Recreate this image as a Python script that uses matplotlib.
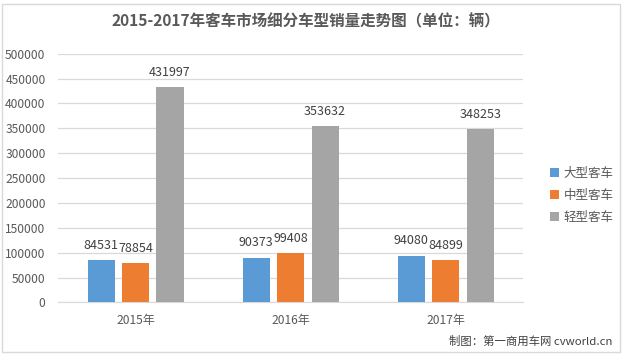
import matplotlib
matplotlib.use('Agg')
import matplotlib.pyplot as plt
from matplotlib.patches import Rectangle
import numpy as np

plt.rcParams['font.family'] = ['Noto Sans CJK SC', 'DejaVu Sans']

# Data
years = ['2015年', '2016年', '2017年']
series_names = ['大型客车', '中型客车', '轻型客车']
large_bus = [84531, 90373, 94080]
medium_bus = [78854, 99408, 84899]
light_bus = [431997, 353632, 348253]
colors = ['#5B9BD5', '#ED7D31', '#A5A5A5']

fig = plt.figure(figsize=(6.23, 3.57), dpi=100)
fig.patch.set_facecolor('white')

# chart border
fig.patches.append(Rectangle((2 / 623, 1 - 352 / 357), 618 / 623, 348 / 357,
                             transform=fig.transFigure, fill=False,
                             edgecolor='#D9D9D9', linewidth=1.0))

ax = fig.add_axes([0.0931, 0.1527, 0.747, 0.697])

x = np.arange(len(years))
width = 0.175
offset = 0.222
all_series = [large_bus, medium_bus, light_bus]
for i, (vals, name, c) in enumerate(zip(all_series, series_names, colors)):
    bars = ax.bar(x + (i - 1) * offset, vals, width, color=c, label=name, zorder=3)
    for b, v in zip(bars, vals):
        ax.annotate(str(v), (b.get_x() + b.get_width() / 2, v),
                    textcoords='offset points', xytext=(0, 6),
                    ha='center', va='bottom', fontsize=9, color='#404040')

ax.set_xlim(-0.5, 2.5)
ax.set_ylim(0, 500000)
ax.set_yticks(np.arange(0, 500001, 50000))
ax.set_xticks(x)
ax.set_xticklabels(years)
ax.yaxis.grid(True, color='#D9D9D9', linewidth=0.9, zorder=0)
ax.set_axisbelow(True)
for s in ['top', 'right', 'left']:
    ax.spines[s].set_visible(False)
ax.spines['bottom'].set_color('#D9D9D9')
ax.tick_params(axis='both', length=0, labelsize=8.7, labelcolor='#595959')
ax.tick_params(axis='y', pad=9)
ax.tick_params(axis='x', pad=8)

fig.text(306 / 623, 1 - 21 / 357, '2015-2017年客车市场细分车型销量走势图（单位：辆）',
         ha='center', va='center', fontsize=11.2, fontweight='bold', color='#595959')

ax.legend(loc='center left', bbox_to_anchor=(1.033, 0.43), frameon=False,
          fontsize=9, labelcolor='#595959', handlelength=0.7, handleheight=0.7,
          handletextpad=0.4, labelspacing=0.7)

fig.text(612 / 623, 1 - 341 / 357, '制图：第一商用车网 cvworld.cn',
         ha='right', va='center', fontsize=8.2, color='#404040')

plt.savefig('out.png', dpi=100, facecolor='white')
